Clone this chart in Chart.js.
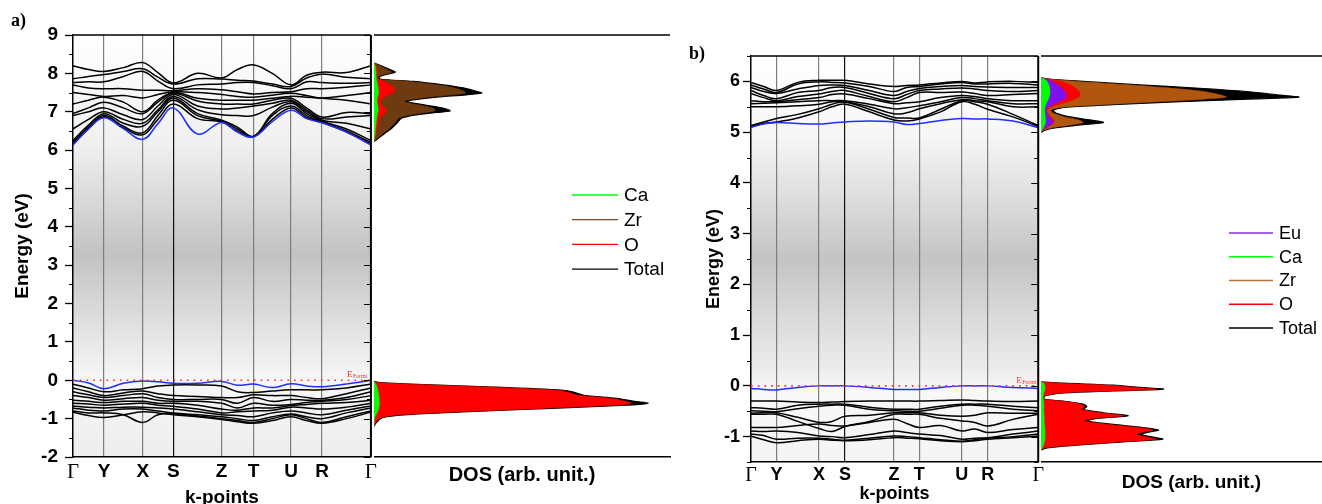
<!DOCTYPE html>
<html>
<head>
<meta charset="utf-8">
<script src="https://cdn.jsdelivr.net/npm/chart.js@4.4.1/dist/chart.umd.min.js"></script>
<style>
  body { margin: 0; background: #fff; }
  #page { position: relative; width: 1322px; height: 504px; overflow: hidden; background: #fff; }
  #page canvas { position: absolute; top: 0; }
  .tag { position: absolute; font: bold 18px "Liberation Serif", "Times New Roman", serif; }
</style>
</head>
<body>
<div id="page">
  <canvas id="dosA" width="300" height="520" style="left:374px"></canvas>
  <canvas id="bandA" width="380" height="520" style="left:0px"></canvas>
  <canvas id="dosB" width="301" height="520" style="left:1041px"></canvas>
  <canvas id="bandB" width="356" height="520" style="left:690px"></canvas>
  <div class="tag" style="left:11px;top:10px">a)</div>
  <div class="tag" style="left:689px;top:43px">b)</div>
</div>
<script>
const SANS = '"Liberation Sans", Arial, sans-serif';
const SERIF = '"Liberation Serif", "Times New Roman", serif';

// ---- k-path ----
const kLabels = ['Γ', 'Y', 'X', 'S', 'Z', 'T', 'U', 'R', 'Γ'];
const kTicksA = [0, 0.104, 0.234, 0.337, 0.499, 0.606, 0.732, 0.836, 1];
const kTicksB = [0, 0.089, 0.237, 0.327, 0.498, 0.586, 0.734, 0.824, 1];
// sample points: each high-symmetry point and the middle of each segment
const kPathA = [0, 0.052, 0.104, 0.169, 0.234, 0.285, 0.337, 0.418, 0.499, 0.552, 0.606, 0.669, 0.732, 0.784, 0.836, 0.918, 1];
const kPathB = [0, 0.044, 0.089, 0.163, 0.237, 0.282, 0.327, 0.412, 0.498, 0.542, 0.586, 0.660, 0.734, 0.779, 0.824, 0.912, 1];

// ---- panel a: bands (eV) ----
const condBandsA = [
  [8.20, 8.10, 8.05, 8.15, 8.28, 8.02, 7.75, 8.00, 7.88, 8.10, 8.22, 8.00, 7.70, 7.95, 8.03, 8.02, 8.20],
  [7.86, 7.92, 7.97, 8.05, 8.12, 7.90, 7.72, 7.86, 7.85, 7.82, 7.80, 7.72, 7.66, 7.88, 7.98, 7.90, 7.86],
  [7.76, 7.78, 7.78, 7.92, 8.05, 7.80, 7.60, 7.70, 7.72, 7.76, 7.76, 7.68, 7.60, 7.78, 7.76, 7.74, 7.76],
  [7.70, 7.62, 7.60, 7.60, 7.56, 7.56, 7.55, 7.60, 7.57, 7.52, 7.46, 7.50, 7.52, 7.60, 7.60, 7.64, 7.70],
  [7.50, 7.45, 7.40, 7.42, 7.36, 7.45, 7.52, 7.50, 7.45, 7.40, 7.38, 7.43, 7.48, 7.42, 7.36, 7.42, 7.50],
  [7.20, 7.30, 7.38, 7.25, 7.00, 7.30, 7.50, 7.35, 7.30, 7.30, 7.30, 7.35, 7.40, 7.38, 7.35, 7.30, 7.20],
  [6.95, 7.10, 7.25, 7.10, 6.95, 7.25, 7.48, 7.28, 7.20, 7.20, 7.20, 7.30, 7.35, 7.10, 6.86, 6.98, 6.95],
  [6.90, 7.00, 7.10, 6.92, 6.80, 7.15, 7.45, 7.15, 7.07, 7.10, 7.15, 7.22, 7.30, 7.05, 6.82, 6.86, 6.90],
  [6.55, 6.80, 7.00, 6.80, 6.70, 7.05, 7.40, 7.05, 6.92, 6.90, 6.90, 7.12, 7.26, 7.00, 6.78, 6.70, 6.55],
  [6.25, 6.65, 6.95, 6.70, 6.62, 7.00, 7.35, 6.95, 6.78, 6.60, 6.36, 6.95, 7.22, 6.95, 6.75, 6.55, 6.25],
  [6.20, 6.60, 6.90, 6.62, 6.45, 6.90, 7.30, 6.90, 6.75, 6.55, 6.35, 6.90, 7.15, 6.90, 6.73, 6.50, 6.20],
  [6.16, 6.56, 6.87, 6.58, 6.40, 6.80, 7.20, 6.82, 6.73, 6.50, 6.35, 6.80, 7.10, 6.85, 6.72, 6.47, 6.16]
];
const cbmA = [6.13, 6.55, 6.84, 6.56, 6.28, 6.69, 7.10, 6.42, 6.72, 6.47, 6.34, 6.74, 7.04, 6.82, 6.71, 6.47, 6.13];
const vbmA = [0.00, -0.07, -0.22, -0.08, -0.02, -0.04, -0.08, -0.08, -0.03, -0.13, -0.10, -0.19, -0.09, -0.15, -0.17, -0.10, 0.00];
const valBandsA = [
  [-0.10, -0.20, -0.30, -0.25, -0.22, -0.15, -0.12, -0.12, -0.15, -0.30, -0.32, -0.28, -0.25, -0.25, -0.25, -0.20, -0.10],
  [-0.20, -0.30, -0.40, -0.33, -0.28, -0.35, -0.40, -0.42, -0.45, -0.45, -0.38, -0.40, -0.40, -0.45, -0.48, -0.35, -0.20],
  [-0.30, -0.38, -0.45, -0.40, -0.35, -0.45, -0.50, -0.50, -0.50, -0.60, -0.45, -0.55, -0.50, -0.52, -0.52, -0.45, -0.30],
  [-0.40, -0.45, -0.52, -0.48, -0.45, -0.52, -0.55, -0.55, -0.60, -0.72, -0.60, -0.65, -0.63, -0.58, -0.55, -0.50, -0.40],
  [-0.52, -0.55, -0.58, -0.55, -0.55, -0.60, -0.60, -0.65, -0.75, -0.78, -0.72, -0.72, -0.66, -0.63, -0.60, -0.58, -0.52],
  [-0.60, -0.62, -0.65, -0.62, -0.60, -0.65, -0.68, -0.75, -0.85, -0.82, -0.80, -0.78, -0.70, -0.72, -0.75, -0.70, -0.60],
  [-0.67, -0.70, -0.72, -0.70, -0.70, -0.72, -0.75, -0.82, -0.90, -0.92, -0.95, -0.85, -0.80, -0.85, -0.90, -0.78, -0.67],
  [-0.72, -0.78, -0.80, -0.75, -0.75, -0.80, -0.85, -0.90, -0.95, -1.00, -1.05, -0.95, -0.88, -0.95, -1.00, -0.85, -0.72],
  [-0.80, -0.85, -0.85, -0.90, -1.10, -0.90, -0.87, -0.93, -1.00, -1.05, -1.10, -1.00, -0.90, -1.00, -1.10, -0.95, -0.80],
  [-0.83, -0.92, -0.97, -0.90, -0.82, -0.85, -0.90, -0.95, -1.02, -1.08, -1.12, -1.05, -0.95, -1.05, -1.12, -1.00, -0.83]
];

// ---- panel b: bands (eV) ----
const condBandsB = [
  [5.98, 5.90, 5.82, 5.98, 6.02, 6.02, 6.02, 5.95, 5.90, 5.92, 5.93, 5.97, 6.00, 5.97, 5.99, 6.00, 5.98],
  [5.93, 5.85, 5.78, 5.95, 5.99, 5.98, 5.97, 5.90, 5.80, 5.88, 5.90, 5.95, 5.98, 5.95, 5.95, 5.96, 5.93],
  [5.88, 5.80, 5.76, 5.85, 5.92, 5.93, 5.92, 5.82, 5.72, 5.80, 5.86, 5.90, 5.92, 5.90, 5.89, 5.88, 5.88],
  [5.82, 5.72, 5.66, 5.78, 5.82, 5.88, 5.88, 5.76, 5.66, 5.74, 5.82, 5.85, 5.87, 5.85, 5.82, 5.80, 5.82],
  [5.76, 5.68, 5.62, 5.70, 5.75, 5.80, 5.82, 5.70, 5.60, 5.68, 5.78, 5.78, 5.79, 5.76, 5.72, 5.74, 5.76],
  [5.62, 5.60, 5.60, 5.64, 5.68, 5.74, 5.75, 5.66, 5.56, 5.58, 5.60, 5.68, 5.72, 5.70, 5.66, 5.62, 5.62],
  [5.56, 5.57, 5.58, 5.60, 5.62, 5.62, 5.62, 5.55, 5.46, 5.48, 5.52, 5.60, 5.68, 5.66, 5.62, 5.56, 5.56],
  [5.50, 5.50, 5.50, 5.52, 5.55, 5.60, 5.60, 5.50, 5.36, 5.38, 5.46, 5.56, 5.64, 5.62, 5.60, 5.50, 5.50],
  [5.13, 5.20, 5.27, 5.35, 5.46, 5.55, 5.59, 5.45, 5.29, 5.28, 5.28, 5.45, 5.62, 5.60, 5.55, 5.35, 5.13],
  [5.11, 5.17, 5.20, 5.28, 5.40, 5.50, 5.55, 5.40, 5.24, 5.22, 5.26, 5.40, 5.60, 5.55, 5.45, 5.30, 5.11]
];
const cbmB = [5.09, 5.16, 5.19, 5.17, 5.16, 5.18, 5.20, 5.22, 5.20, 5.15, 5.17, 5.23, 5.27, 5.26, 5.26, 5.22, 5.09];
const vbmB = [-0.05, -0.07, -0.08, -0.03, 0.00, 0.00, 0.00, -0.03, -0.07, -0.07, -0.07, -0.03, 0.00, 0.00, 0.00, -0.03, -0.05];
const valBandsB = [
  [-0.30, -0.30, -0.30, -0.32, -0.33, -0.32, -0.31, -0.30, -0.30, -0.30, -0.30, -0.29, -0.28, -0.29, -0.30, -0.31, -0.30],
  [-0.43, -0.44, -0.46, -0.38, -0.36, -0.36, -0.36, -0.42, -0.46, -0.46, -0.46, -0.40, -0.36, -0.36, -0.36, -0.40, -0.43],
  [-0.49, -0.50, -0.51, -0.45, -0.40, -0.38, -0.38, -0.46, -0.49, -0.50, -0.50, -0.44, -0.38, -0.38, -0.40, -0.46, -0.49],
  [-0.54, -0.53, -0.53, -0.62, -0.72, -0.70, -0.60, -0.58, -0.53, -0.53, -0.53, -0.58, -0.60, -0.58, -0.53, -0.54, -0.54],
  [-0.56, -0.56, -0.56, -0.70, -0.84, -0.90, -0.80, -0.70, -0.56, -0.56, -0.56, -0.64, -0.69, -0.72, -0.79, -0.66, -0.56],
  [-0.82, -0.82, -0.82, -0.78, -0.75, -0.78, -0.79, -0.72, -0.66, -0.74, -0.82, -0.78, -0.89, -0.85, -0.92, -0.86, -0.82],
  [-0.89, -0.90, -0.89, -0.92, -0.99, -1.00, -1.02, -0.96, -0.89, -0.92, -0.95, -0.98, -1.05, -1.03, -1.02, -0.95, -0.89],
  [-0.95, -0.98, -1.05, -1.03, -1.03, -1.05, -1.07, -1.03, -0.99, -1.00, -1.02, -1.06, -1.09, -1.06, -1.03, -1.00, -0.95],
  [-0.99, -1.06, -1.12, -1.08, -1.05, -1.07, -1.08, -1.06, -1.02, -1.03, -1.04, -1.08, -1.10, -1.08, -1.05, -1.02, -0.99]
];

// ---- panel a: DOS (arb. unit) ----
const dosCbEA    = [8.27, 8.18, 8.09, 8.03, 7.98, 7.92, 7.85, 7.79, 7.70, 7.62, 7.53, 7.49, 7.44, 7.38, 7.31, 7.27, 7.21, 7.14, 7.07, 7.02, 6.98, 6.92, 6.83, 6.70, 6.57, 6.44, 6.31, 6.22];
const dosCbTotA  = [0, 3, 5.6, 7.2, 4.5, 2, 2, 13.3, 23.4, 30.2, 34.7, 36.4, 31.3, 21.2, 13.3, 11, 14.4, 20, 24.5, 25.7, 21.2, 14.4, 9.3, 7.7, 6, 3.7, 1.5, 0];
const dosCbZrA   = [0, 2.5, 4.8, 6, 3.8, 1.6, 1.6, 12, 21.5, 27.5, 30.5, 31, 27, 18.5, 12, 10, 13, 17.5, 20.5, 20.5, 17.5, 12.5, 8.3, 7, 5.3, 3.2, 1.2, 0];
const dosCbOA    = [0, 1, 1.2, 1.3, 1.2, 1, 1.2, 3.5, 5.5, 6.8, 7, 6.2, 5, 3.5, 2.3, 2, 2.4, 3.2, 4, 4.3, 4, 3, 2, 1.5, 1.2, 0.8, 0.4, 0];
const dosCbCaA   = [0, 0.5, 0.6, 0.7, 0.7, 0.7, 0.8, 1.0, 1.2, 1.4, 1.5, 1.5, 1.4, 1.2, 1.0, 1.0, 1.1, 1.3, 1.4, 1.4, 1.3, 1.1, 0.9, 0.7, 0.5, 0.4, 0.2, 0];
const dosVbEA    = [-0.03, -0.06, -0.09, -0.17, -0.26, -0.30, -0.39, -0.47, -0.55, -0.60, -0.64, -0.73, -0.82, -0.90, -0.97, -1.08, -1.20];
const dosVbTotA  = [0, 2, 9.9, 38, 64, 67, 71, 82, 88, 92.6, 87.5, 60, 32, 10, 3, 1, 0];
const dosVbOA    = [0, 1.6, 9, 36.5, 62, 65, 69, 80, 85, 87, 84, 58, 30.5, 9, 2.5, 0.7, 0];
const dosVbZrA   = [0, 0.2, 0.3, 0.5, 0.6, 0.6, 0.7, 0.8, 0.8, 0.8, 0.8, 0.7, 0.6, 0.4, 0.2, 0.1, 0];
const dosVbCaA   = [0, 0.3, 0.6, 1.0, 1.3, 1.4, 1.6, 1.7, 1.8, 1.8, 1.8, 1.6, 1.2, 0.7, 0.3, 0.1, 0];

// ---- panel b: DOS (arb. unit) ----
const dosCbEB    = [6.075, 6.05, 6.00, 5.93, 5.86, 5.80, 5.73, 5.69, 5.65, 5.60, 5.55, 5.49, 5.43, 5.37, 5.30, 5.24, 5.19, 5.14, 5.09, 5.04, 4.99];
const dosCbTotB  = [0, 2, 15, 35.2, 57.8, 73.2, 85, 91.6, 73.2, 49.5, 29.3, 9.1, 4.4, 5.5, 10.3, 17.4, 22.2, 13.9, 5.5, 1.4, 0];
const dosCbZrB   = [0, 1.5, 13, 32, 48, 58, 64, 66, 58, 42, 25, 7.5, 3.5, 4.5, 8.5, 13.5, 15, 10.5, 4.5, 1, 0];
const dosCbOB    = [0, 1.5, 7, 10.5, 12.5, 13.5, 13.9, 13.5, 12, 9.5, 6.5, 3.5, 2, 2.5, 3.5, 4.5, 4.5, 3.5, 2, 0.8, 0];
const dosCbEuB   = [0, 1.2, 4, 6, 7.5, 8.5, 9, 9, 8.3, 6.5, 4.5, 2.5, 1.8, 2.2, 3, 4, 4.4, 3.2, 1.8, 0.6, 0];
const dosCbCaB   = [0, 1, 2.2, 2.8, 3.1, 3.2, 3.1, 2.9, 2.6, 2.2, 1.8, 1.4, 1.3, 1.4, 1.5, 1.6, 1.6, 1.3, 0.9, 0.4, 0];
const dosVbEB    = [0.08, 0.053, 0.014, -0.03, -0.065, -0.10, -0.14, -0.20, -0.26, -0.30, -0.36, -0.41, -0.46, -0.53, -0.59, -0.64, -0.69, -0.76, -0.82, -0.87, -0.92, -0.96, -1.01, -1.05, -1.10, -1.17, -1.22, -1.26];
const dosVbTotB  = [0, 7.9, 25.7, 35.2, 43.5, 25.7, 7.9, 1.4, 1.1, 7.9, 15, 16.3, 15, 22.2, 31, 20, 16.3, 25.7, 36.2, 41.8, 37.4, 35.6, 39.9, 43.3, 30.2, 12.5, 2.2, 0];
const dosVbOB    = [0, 7, 24.5, 33.5, 41, 24.5, 7.2, 1.1, 0.9, 7.3, 14.2, 15.5, 14.2, 21.2, 29.5, 19, 15.4, 24.5, 34.6, 39.8, 35.6, 34, 38, 41.2, 28.7, 11.6, 1.8, 0];
const dosVbCaB   = [0, 1.0, 1.3, 1.4, 1.4, 1.2, 1.0, 0.8, 0.8, 0.9, 1.0, 1.0, 1.0, 1.0, 1.1, 1.1, 1.1, 1.2, 1.3, 1.4, 1.4, 1.4, 1.4, 1.4, 1.2, 0.9, 0.5, 0];

// ---- legends ----
const legendA = [['Ca', '#00ff00'], ['Zr', '#7a4a22'], ['O', '#ff0000'], ['Total', '#000000']];
const legendB = [['Eu', '#8a2be2'], ['Ca', '#00ff00'], ['Zr', '#b8743c'], ['O', '#ff0000'], ['Total', '#000000']];

Chart.defaults.color = '#000';
Chart.defaults.font.family = SANS;

function bandLine(path, values, color) {
  return {
    data: path.map((k, i) => ({ x: k, y: values[i] })),
    borderColor: color, borderWidth: 1.5, pointRadius: 0, tension: 0.4, fill: false
  };
}
function fermiLine() {
  return {
    data: [{ x: 0, y: 0 }, { x: 1, y: 0 }],
    borderColor: '#ff3030', borderWidth: 1.7, borderDash: [1.7, 5], pointRadius: 0, fill: false
  };
}
function dosArea(energies, values, fillColor, lineColor, width) {
  return {
    data: energies.map((e, i) => ({ x: values[i], y: e })),
    backgroundColor: fillColor, borderColor: lineColor, borderWidth: width,
    pointRadius: 0, tension: 0.3, fill: 'origin'
  };
}

const bandFrame = {
  id: 'bandFrame',
  beforeDraw(chart, args, o) {
    const { ctx, chartArea: a } = chart;
    const g = ctx.createLinearGradient(0, a.top, 0, a.bottom);
    o.stops.forEach(s => g.addColorStop(s[0], s[1]));
    ctx.save();
    ctx.fillStyle = g;
    ctx.fillRect(a.left, a.top, a.right - a.left, a.bottom - a.top);
    ctx.restore();
  },
  afterDraw(chart, args, o) {
    const { ctx, chartArea: a, scales: { y } } = chart;
    ctx.save();
    ctx.strokeStyle = '#000';
    ctx.lineWidth = 1.5;
    ctx.beginPath();
    ctx.moveTo(a.left, a.top); ctx.lineTo(a.right, a.top);
    ctx.stroke();
    ctx.lineWidth = 2;
    ctx.beginPath();
    ctx.moveTo(a.right, a.top); ctx.lineTo(a.right, a.bottom);
    ctx.stroke();
    ctx.lineWidth = 1.2;
    ctx.beginPath();
    for (let v = y.min; v <= y.max + 1e-9; v += 0.5) {
      const p = Math.round(y.getPixelForValue(v)) + 0.5;
      const major = Math.abs(v - Math.round(v)) < 1e-6;
      if (!major) { ctx.moveTo(a.left - 4, p); ctx.lineTo(a.left, p); }
      ctx.moveTo(a.right - (major ? 7 : 4), p); ctx.lineTo(a.right, p);
    }
    ctx.stroke();
    const fy = y.getPixelForValue(0);
    ctx.fillStyle = '#ff3030';
    ctx.font = '9px ' + SERIF;
    ctx.fillText('E', a.right - o.fermiDx, fy - 3);
    ctx.font = '6px ' + SERIF;
    ctx.fillText('Fermi', a.right - o.fermiDx + 6, fy - 2);
    ctx.restore();
  }
};

const dosFrame = {
  id: 'dosFrame',
  afterDraw(chart, args, o) {
    const { ctx, chartArea: a } = chart;
    ctx.save();
    ctx.strokeStyle = '#000';
    ctx.lineWidth = 1.5;
    ctx.beginPath();
    ctx.moveTo(a.left, a.top); ctx.lineTo(a.right, a.top);
    ctx.stroke();
    ctx.font = o.font;
    ctx.textBaseline = 'middle';
    o.items.forEach((it, i) => {
      const yy = o.y + i * o.gap;
      ctx.strokeStyle = it[1];
      ctx.lineWidth = 1.3;
      ctx.beginPath();
      ctx.moveTo(o.x, yy); ctx.lineTo(o.x + o.len, yy);
      ctx.stroke();
      ctx.fillStyle = '#000';
      ctx.fillText(it[0], o.x + o.len + 6, yy + 1);
    });
    ctx.restore();
  }
};

function bandChart(id, cfg) {
  const datasets = [fermiLine(), bandLine(cfg.path, cfg.cbm, '#1f2fff'), bandLine(cfg.path, cfg.vbm, '#1f2fff')];
  cfg.cond.forEach(b => datasets.push(bandLine(cfg.path, b, '#000')));
  cfg.val.forEach(b => datasets.push(bandLine(cfg.path, b, '#000')));
  return new Chart(document.getElementById(id), {
    type: 'line',
    data: { datasets },
    plugins: [bandFrame],
    options: {
      responsive: false, animation: false, devicePixelRatio: 1,
      layout: { padding: { left: 0, top: cfg.top, right: cfg.padRight, bottom: 0 } },
      plugins: {
        legend: { display: false }, tooltip: { enabled: false },
        bandFrame: { stops: cfg.stops, fermiDx: cfg.fermiDx }
      },
      scales: {
        x: {
          type: 'linear', min: 0, max: 1,
          afterBuildTicks: s => { s.ticks = cfg.ticks.map(v => ({ value: v })); },
          afterFit: s => { s.height = cfg.xHeight; },
          ticks: {
            autoSkip: false, maxRotation: 0, padding: cfg.xTickPad,
            callback: (v, i) => kLabels[i],
            font: c => kLabels[c.index] === 'Γ'
              ? { family: SERIF, size: cfg.tickSize + 2, weight: 'normal' }
              : { family: SANS, size: cfg.tickSize, weight: 'bold' }
          },
          grid: {
            drawTicks: false, lineWidth: 1.2,
            color: c => (c.index === 0 || c.index === 8) ? 'rgba(0,0,0,0)' : (c.index === 3 ? '#111' : '#7d7d7d')
          },
          border: { display: true, color: '#000', width: 1.5 },
          title: { display: true, text: 'k-points', font: { family: SANS, size: cfg.titleSize, weight: 'bold' }, padding: { top: 0, bottom: cfg.xTitlePad } }
        },
        y: {
          type: 'linear', min: cfg.ymin, max: cfg.ymax,
          afterBuildTicks: s => {
            const t = [];
            for (let v = Math.ceil(cfg.ymin); v <= cfg.ymax; v++) t.push({ value: v });
            s.ticks = t;
          },
          afterFit: s => { s.width = cfg.yWidth; },
          ticks: { padding: cfg.yTickPad, font: { family: SANS, size: cfg.tickSize, weight: 'bold' } },
          grid: { drawOnChartArea: false, drawTicks: true, tickLength: 8, tickWidth: 1.3, tickColor: '#000' },
          border: { display: true, color: '#000', width: 1.5 },
          title: { display: true, text: 'Energy (eV)', font: { family: SANS, size: cfg.titleSize, weight: 'bold' }, padding: { top: cfg.yTitlePad, bottom: 0 } }
        }
      }
    }
  });
}

function dosChart(id, cfg) {
  return new Chart(document.getElementById(id), {
    type: 'line',
    data: { datasets: cfg.datasets },
    plugins: [dosFrame],
    options: {
      indexAxis: 'y',
      responsive: false, animation: false, devicePixelRatio: 1,
      layout: { padding: { left: 0, top: cfg.top, right: cfg.padRight, bottom: 0 } },
      plugins: {
        legend: { display: false }, tooltip: { enabled: false },
        dosFrame: cfg.legend
      },
      scales: {
        x: {
          type: 'linear', min: 0, max: cfg.xmax,
          afterFit: s => { s.height = cfg.xHeight; },
          ticks: { display: false },
          grid: { display: false },
          border: { display: true, color: '#000', width: 1.5 },
          title: { display: true, text: 'DOS (arb. unit.)', font: { family: SANS, size: cfg.titleSize, weight: 'bold' }, padding: { top: 0, bottom: cfg.xTitlePad } }
        },
        y: { type: 'linear', min: cfg.ymin, max: cfg.ymax, display: false }
      }
    }
  });
}

const greyA = [[0, '#ffffff'], [0.26, '#f0f0f0'], [0.52, '#c2c2c2'], [0.76, '#ededed'], [0.82, '#f7f7f7'], [1, '#ededed']];
const greyB = [[0, '#ffffff'], [0.2, '#f6f6f6'], [0.5, '#c4c4c4'], [0.78, '#eeeeee'], [0.82, '#f8f8f8'], [1, '#f4f4f4']];

bandChart('bandA', {
  path: kPathA, ticks: kTicksA, cond: condBandsA, val: valBandsA, cbm: cbmA, vbm: vbmA,
  ymin: -2, ymax: 9, top: 35, padRight: 6, xHeight: 63, yWidth: 73,
  tickSize: 19, titleSize: 19, xTickPad: 3, xTitlePad: 11, yTickPad: 7, yTitlePad: 11,
  stops: greyA, fermiDx: 24
});
bandChart('bandB', {
  path: kPathB, ticks: kTicksB, cond: condBandsB, val: valBandsB, cbm: cbmB, vbm: vbmB,
  ymin: -1.5, ymax: 6.5, top: 56, padRight: 5, xHeight: 58, yWidth: 61,
  tickSize: 18, titleSize: 18, xTickPad: 2, xTitlePad: 15, yTickPad: 3, yTitlePad: 13,
  stops: greyB, fermiDx: 22
});

dosChart('dosA', {
  ymin: -2, ymax: 9, top: 35, padRight: 4, xHeight: 63, xmax: 100, titleSize: 20, xTitlePad: 33,
  legend: { items: legendA, x: 198, len: 46, y: 195, gap: 24.7, font: '19px ' + SANS },
  datasets: [
    dosArea(dosCbEA, dosCbCaA, '#00ff00', '#00ff00', 0.5),
    dosArea(dosCbEA, dosCbOA, '#ff0000', '#ff0000', 0.5),
    dosArea(dosCbEA, dosCbZrA, '#6e3a10', '#6e3a10', 0.5),
    dosArea(dosCbEA, dosCbTotA, '#000000', '#000000', 1.2),
    dosArea(dosVbEA, dosVbCaA, '#00ff00', '#00ff00', 0.5),
    dosArea(dosVbEA, dosVbOA, '#ff0000', '#ff0000', 0.5),
    dosArea(dosVbEA, dosVbZrA, '#6e3a10', '#6e3a10', 0.5),
    dosArea(dosVbEA, dosVbTotA, '#000000', '#000000', 1.2)
  ]
});
dosChart('dosB', {
  ymin: -1.5, ymax: 6.5, top: 56, padRight: 0, xHeight: 58, xmax: 107, titleSize: 19, xTitlePad: 26,
  legend: { items: legendB, x: 188, len: 44, y: 233, gap: 23.75, font: '18px ' + SANS },
  datasets: [
    dosArea(dosCbEB, dosCbCaB, '#00ff00', '#00ff00', 0.5),
    dosArea(dosCbEB, dosCbEuB, '#7f10f0', '#7f10f0', 0.5),
    dosArea(dosCbEB, dosCbOB, '#ff0000', '#ff0000', 0.5),
    dosArea(dosCbEB, dosCbZrB, '#b0560e', '#b0560e', 0.5),
    dosArea(dosCbEB, dosCbTotB, '#000000', '#000000', 1.2),
    dosArea(dosVbEB, dosVbCaB, '#00ff00', '#00ff00', 0.5),
    dosArea(dosVbEB, dosVbOB, '#ff0000', '#ff0000', 0.5),
    dosArea(dosVbEB, dosVbTotB, '#000000', '#000000', 1.2)
  ]
});
</script>
</body>
</html>
